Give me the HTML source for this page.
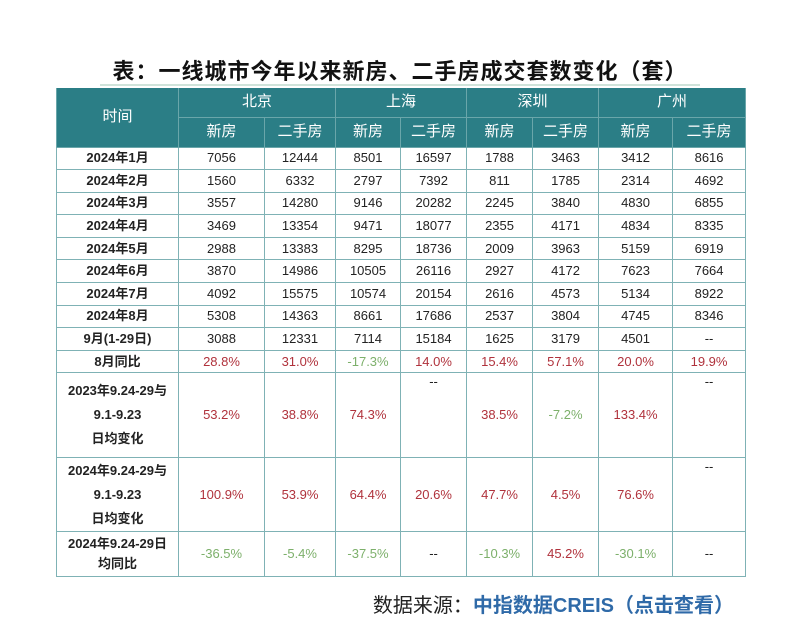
<!DOCTYPE html>
<html><head><meta charset="utf-8"><style>
body{margin:0;width:800px;height:643px;background:#fff;font-family:"Liberation Sans","Noto Sans CJK SC",sans-serif;position:relative;overflow:hidden}
.title{position:absolute;top:54px;left:0;width:800px;text-align:center;font-size:22px;font-weight:bold;color:#111;letter-spacing:1px}
.uline{position:absolute;top:84px;left:100px;width:600px;height:2px;background:#cfe3da}
table{position:absolute;left:56px;top:88px;border-collapse:collapse;table-layout:fixed;width:689px}
td{border:1px solid #7fb2b5;text-align:center;font-size:13px;color:#222;padding:0;line-height:18px}
tr.h td{background:#2b7e86;color:#fff;font-size:15px;border-color:#6aa6aa;border-style:solid}
tr.h td{border-top:none}
.r{color:#b0323c}.g{color:#7db06b}
.t{font-weight:bold}
.foot{position:absolute;top:589px;right:66px;font-size:20px;color:#222}
.foot b{color:#2f6aa8}
</style></head><body>
<div class="title">表：一线城市今年以来新房、二手房成交套数变化（套）</div>
<div class="uline"></div>
<table>
<colgroup><col style="width:122px"><col style="width:86px"><col style="width:71px"><col style="width:65px"><col style="width:66px"><col style="width:66px"><col style="width:66px"><col style="width:74px"><col style="width:73px"></colgroup>
<tr class="h" style="height:29px"><td rowspan="2">时间</td><td colspan="2">北京</td><td colspan="2">上海</td><td colspan="2">深圳</td><td colspan="2">广州</td></tr>
<tr class="h" style="height:30px"><td>新房</td><td>二手房</td><td>新房</td><td>二手房</td><td>新房</td><td>二手房</td><td>新房</td><td>二手房</td></tr>
<tbody id="tb"></tbody>
</table>
<div class="foot">数据来源：<b>中指数据CREIS（点击查看）</b></div>
<script>
const labels=["2024年1月","2024年2月","2024年3月","2024年4月","2024年5月","2024年6月","2024年7月","2024年8月","9月(1-29日)"];
const values=[
[7056,12444,8501,16597,1788,3463,3412,8616],
[1560,6332,2797,7392,811,1785,2314,4692],
[3557,14280,9146,20282,2245,3840,4830,6855],
[3469,13354,9471,18077,2355,4171,4834,8335],
[2988,13383,8295,18736,2009,3963,5159,6919],
[3870,14986,10505,26116,2927,4172,7623,7664],
[4092,15575,10574,20154,2616,4573,5134,8922],
[5308,14363,8661,17686,2537,3804,4745,8346],
[3088,12331,7114,15184,1625,3179,4501,"--"]];
const pctLabels=["8月同比","2023年9.24-29与<br>9.1-9.23<br>日均变化","2024年9.24-29与<br>9.1-9.23<br>日均变化","2024年9.24-29日<br>均同比"];
const pctValues=[
[28.8,31.0,-17.3,14.0,15.4,57.1,20.0,19.9],
[53.2,38.8,74.3,null,38.5,-7.2,133.4,null],
[100.9,53.9,64.4,20.6,47.7,4.5,76.6,null],
[-36.5,-5.4,-37.5,null,-10.3,45.2,-30.1,null]];
const pctHeights=[22.6,85,74,45];
const tb=document.getElementById('tb');
labels.forEach((l,i)=>{
 const tr=document.createElement('tr');tr.style.height='22.6px';
 
 
 let h='<td class="t">'+l+'</td>';
 values[i].forEach(v=>{h+='<td>'+v+'</td>';});
 tr.innerHTML=h;tb.appendChild(tr);
});
pctLabels.forEach((l,i)=>{
 const tr=document.createElement('tr');tr.style.height=pctHeights[i]+'px';
 
 
 let h='<td class="t" style="line-height:'+(i==0?18:(i==3?20:24))+'px">'+l+'</td>';
 pctValues[i].forEach(v=>{
  if(v===null)h+='<td style="vertical-align:'+(i>0&&i<3?'top':'middle')+'">--</td>';
  else h+='<td class="'+(v>=0?'r':'g')+'">'+v.toFixed(1)+'%</td>';
 });
 tr.innerHTML=h;tb.appendChild(tr);
});
</script>
</body></html>
